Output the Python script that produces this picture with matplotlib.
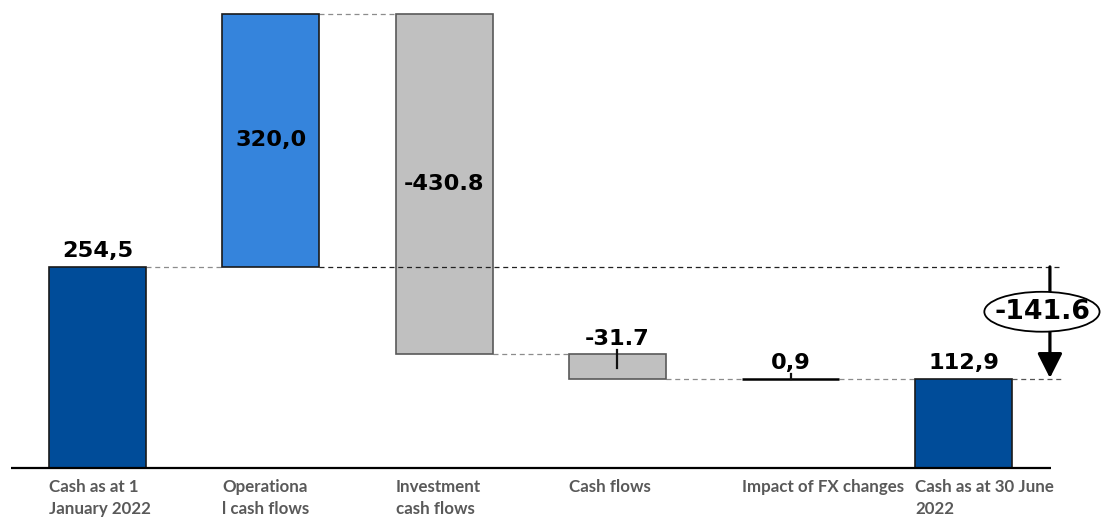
import matplotlib
matplotlib.use("Agg")
import matplotlib.pyplot as plt
from matplotlib.patches import Ellipse

# --- data -------------------------------------------------------------
categories = [
    "Cash as at 1\nJanuary 2022",
    "Operationa\nl cash flows",
    "Investment\ncash flows",
    "Cash flows",
    "Impact of FX changes",
    "Cash as at 30 June\n2022",
]
values = [254.5, 320.0, -430.8, -31.7, 0.9, 112.9]   # first/last are totals
value_labels = ["254,5", "320,0", "-430.8", "-31.7", "0,9", "112,9"]
change_label = "-141.6"

# --- styling -----------------------------------------------------------
colors = ["#004C99", "#3584DC", "#C0C0C0", "#C0C0C0", "#000000", "#004C99"]
edges = ["#1a1a1a", "#1a1a1a", "#595959", "#595959", "#000000", "#1a1a1a"]
edge_w = [1.2, 1.2, 1.2, 1.2, 1.8, 1.2]
inside = [False, True, True, False, False, False]
W = 0.56

fig = plt.figure(figsize=(11.13, 5.18), dpi=100)
ax = fig.add_axes([0, 0, 1, 1])
ax.set_xlim(-0.5626, 5.860)
ax.set_ylim(-63.27, 592.2)
ax.axis("off")

# running totals for the floating bars
n = len(values)
bottoms, tops = [], []
running = 0.0
for i, v in enumerate(values):
    if i == 0 or i == n - 1:
        b, t = 0.0, v
        running = v
    else:
        b, t = running, running + v
        running = t
    bottoms.append(min(b, t))
    tops.append(max(b, t))

x = list(range(n))
heights = [t - b for b, t in zip(bottoms, tops)]
ax.bar(x, heights, bottom=bottoms, width=W, color=colors,
       edgecolor=edges, linewidth=edge_w, zorder=3)

# connector lines between consecutive bars
levels = []
running = 0.0
for i, v in enumerate(values[:-1]):
    running = v if i == 0 else running + v
    levels.append(running)
for i, lev in enumerate(levels):
    ax.plot([i + W / 2, i + 1 - W / 2], [lev, lev], ls=(0, (4, 3)),
            color="#8c8c8c", lw=0.9, zorder=2)

# start / end reference lines towards the change arrow
ax_x = 5.496
start, end = values[0], values[-1]
ax.plot([1 + W / 2, ax_x + 0.05], [start, start], ls=(0, (4, 3)),
        color="#222222", lw=0.9, zorder=4)
ax.plot([n - 1 + W / 2, ax_x + 0.07], [end, end], ls=(0, (4, 3)),
        color="#555555", lw=0.9, zorder=2)

# small marker ticks on the two small movements
ax.plot([3, 3], [tops[3] + 6, tops[3] - 17], color="#111111", lw=1.6, zorder=4)
ax.plot([4, 4], [tops[4], tops[4] + 6], color="#111111", lw=1.6, zorder=4)

# value labels
vfont = dict(family="DejaVu Sans", weight="bold", size=16.2, color="black")
for i in range(n):
    if inside[i]:
        ax.text(i, (bottoms[i] + tops[i]) / 2, value_labels[i], ha="center",
                va="center", zorder=5, **vfont)
    else:
        ax.annotate(value_labels[i], (i, tops[i]), xytext=(0, 7),
                    textcoords="offset points", ha="center", va="baseline",
                    zorder=5, **vfont)

# category labels, left-aligned under each bar
for i, c in enumerate(categories):
    ax.annotate(c, (i - W / 2, 0), xytext=(0, -8), textcoords="offset points",
                ha="left", va="top", family="Lato", weight="bold",
                size=12.2, color="#595959", linespacing=1.45)

# baseline
ax.plot([-0.499, 5.501], [0, 0], color="black", lw=1.6, zorder=5,
        solid_capstyle="butt")

# overall change arrow with oval label
ax.annotate("", xy=(ax_x, end + 1), xytext=(ax_x, start),
            arrowprops=dict(arrowstyle="-|>,head_length=0.75,head_width=0.38",
                            mutation_scale=20, color="black", lw=2.3,
                            shrinkA=0, shrinkB=0), zorder=6)
cy = (start + end) / 2 + 14
ax.add_patch(Ellipse((5.45, cy), 0.665, 50.5, facecolor="white",
                     edgecolor="black", lw=1.3, zorder=7))
ax.text(5.455, cy, change_label, ha="center", va="center", zorder=8,
        family="DejaVu Sans", weight="bold", size=19.3, color="black")

fig.savefig("out.png", dpi=100)
